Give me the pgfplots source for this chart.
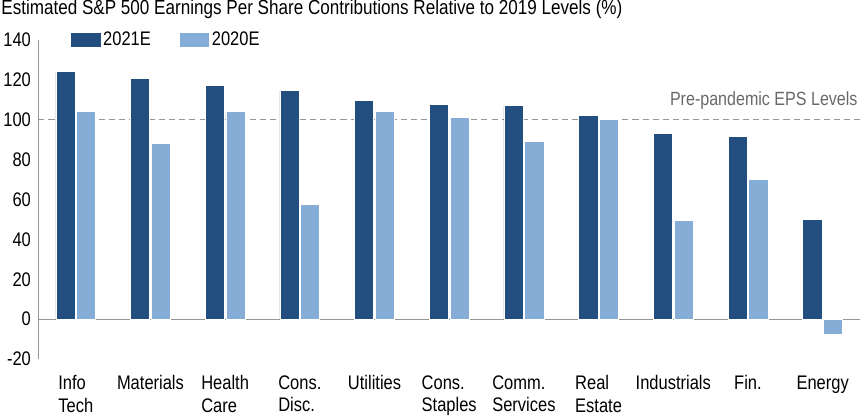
\documentclass[border=0pt]{standalone}
\usepackage{fontspec}
\setmainfont{Liberation Sans}[FakeStretch=0.84]
\usepackage{pgfplots}
\pgfplotsset{compat=1.18}

\definecolor{darkbar}{RGB}{35,78,128}
\definecolor{lightbar}{RGB}{133,173,214}
\definecolor{axgray}{RGB}{150,150,150}
\definecolor{notegray}{RGB}{105,105,105}

\pgfplotstableread{
x  e2021  e2020
0  124    104
1  120.5  88
2  117    104
3  114.5  57.5
4  109.5  104
5  107.5  101
6  107    89
7  102    100
8  93     49.5
9  91.5   70
10 50     -7.5
}\eps

\begin{document}
\begin{tikzpicture}
\begin{axis}[
    scale only axis,
    width=816bp, height=317bp,
    xmin=-0.5, xmax=10.5,
    ymin=-20, ymax=140,
    ybar=1.5bp,
    bar width=0.257,
    axis lines*=left,
    x axis line style={draw=none},
    y axis line style={draw=axgray, line width=0.8bp},
    major tick length=0,
    xtick={0,...,10},
    xticklabels={{Info\\Tech},Materials,{Health\\Care},{Cons.\\Disc.},Utilities,{Cons.\\Staples},{Comm.\\Services},{Real\\Estate},Industrials,Fin.,Energy},
    xticklabel style={align=left, font=\fontsize{19.5bp}{22bp}\selectfont, yshift=-13bp},
    ytick={-20,0,20,40,60,80,100,120,140},
    yticklabels={-20,0,20,40,60,80,100,120,140},
    yticklabel style={font=\fontsize{19.5bp}{22bp}\selectfont, xshift=-4bp},
    title={Estimated S\&P 500 Earnings Per Share Contributions Relative to 2019 Levels (\%)},
    title style={at={(0,1)}, anchor=base west, xshift=-37bp, yshift=19bp, inner sep=0pt, font=\fontsize{20.2bp}{22bp}\selectfont},
    legend style={draw=none, fill=none, at={(0.035,1)}, anchor=west,
        legend columns=2, font=\fontsize{19.5bp}{22bp}\selectfont,
        /tikz/every even column/.append style={column sep=26bp}},
    legend image code/.code={\fill[#1] (0bp,-7.5bp) rectangle (30bp,7.5bp);},
]
\draw[axgray, line width=1.6bp, dash pattern=on 6bp off 4bp] (axis cs:-0.5,100) -- (axis cs:10.5,100);
\draw[axgray, line width=0.8bp] (axis cs:-0.5,0) -- (axis cs:10.5,0);
\addplot[fill=darkbar, draw=white, line width=0.6bp] table[x=x, y=e2021] {\eps};
\addplot[fill=lightbar, draw=white, line width=0.6bp] table[x=x, y=e2020] {\eps};
\legend{2021E,2020E}
\node[anchor=base east, text=notegray, font=\fontsize{19bp}{22bp}\selectfont, inner sep=0pt] at (axis cs:10.47,107) {Pre-pandemic EPS Levels};
\end{axis}
\end{tikzpicture}
\end{document}
